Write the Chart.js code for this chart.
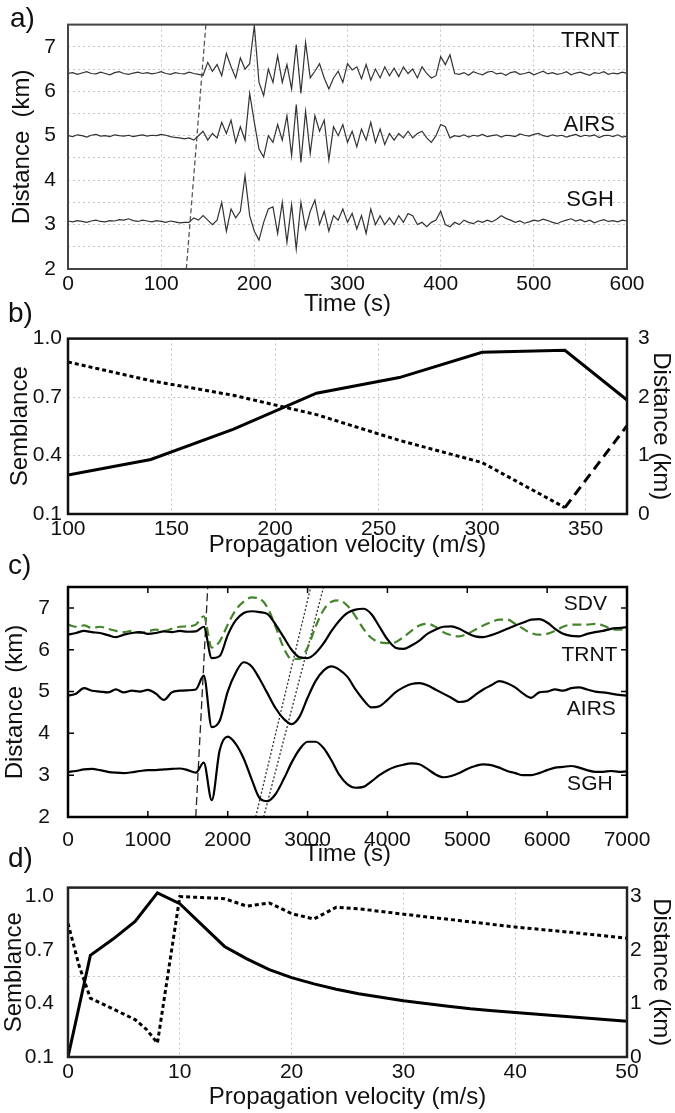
<!DOCTYPE html>
<html>
<head>
<meta charset="utf-8">
<script src="https://cdn.jsdelivr.net/npm/chart.js@4.4.0/dist/chart.umd.min.js"></script>
<style>
    body { margin: 0; background: #fff; }
    #wrap { position: relative; width: 675px; height: 1113px; font-family: "Liberation Sans", Arial, sans-serif; }
    #wrap canvas { position: absolute; left: 0; }
    .lab { position: absolute; font-size: 28px; line-height: 28px; color: #111; }
</style>
</head>
<body>
<div id="wrap">
    <canvas id="chartA" width="675" height="320" style="top:0px"></canvas>
    <canvas id="chartB" width="675" height="240" style="top:320px"></canvas>
    <canvas id="chartC" width="675" height="309" style="top:560px"></canvas>
    <canvas id="chartD" width="675" height="244" style="top:869px"></canvas>
    <div class="lab" style="left:10px;top:4px">a)</div>
    <div class="lab" style="left:8px;top:299px">b)</div>
    <div class="lab" style="left:8px;top:551px">c)</div>
    <div class="lab" style="left:8px;top:844px">d)</div>
</div>
<script>
// ---- panel a : raw traces, one sample every 5 s ----
var timeA = [];
for (var i = 0; i <= 120; i++) timeA.push(i * 5);

var trntA = [6.40, 6.42, 6.38, 6.41, 6.44, 6.40, 6.39, 6.43, 6.40, 6.37, 6.42, 6.44, 6.40, 6.38, 6.41, 6.43, 6.40, 6.42, 6.39, 6.41, 6.44, 6.40, 6.38, 6.42, 6.40, 6.39, 6.43, 6.40, 6.38,
    6.36, 6.65, 6.45, 6.60, 6.35, 6.85, 6.55, 6.30, 6.75, 6.50,
    6.62, 7.48, 6.20, 5.90, 6.50, 6.20, 6.80, 6.20, 6.60, 6.05,
    7.05, 5.95, 7.10, 6.30, 6.45, 6.62, 6.30, 6.05, 6.30, 6.45,
    6.20, 6.62, 6.48, 6.55, 6.28, 6.60, 6.25, 6.50, 6.30, 6.55,
    6.35, 6.52, 6.33, 6.55, 6.40, 6.50, 6.30, 6.55, 6.40, 6.30,
    6.35, 6.78, 6.60, 6.82, 6.40,
    6.38, 6.42, 6.36, 6.44, 6.40, 6.37, 6.43, 6.45, 6.39, 6.41, 6.36, 6.42, 6.44, 6.38, 6.40, 6.43, 6.37, 6.41, 6.45, 6.39,
    6.42, 6.38, 6.40, 6.44, 6.37, 6.41, 6.43, 6.39, 6.36, 6.42, 6.40, 6.44, 6.38, 6.41, 6.39, 6.43, 6.40];
var airsA = [5.00, 4.98, 5.02, 5.00, 4.97, 5.01, 5.03, 4.99, 5.00, 4.98, 5.02, 5.00, 4.99, 5.01, 4.98, 5.00, 5.02, 4.99, 5.01, 5.00, 5.03, 5.01, 4.98, 4.96, 4.95, 4.93,
    4.95, 4.90, 5.00, 5.10, 4.90, 5.05, 4.95, 5.30, 5.05, 5.35,
    4.85, 5.20, 4.90, 5.95, 5.30, 4.70, 4.52, 5.00, 4.85, 5.25,
    4.90, 5.45, 4.55, 5.70, 4.40, 5.55, 4.60, 5.45, 5.10, 5.35,
    4.45, 5.20, 5.00, 5.25, 4.85, 5.10, 4.75, 5.15, 4.90, 5.30,
    4.85, 5.15, 4.80, 5.05, 4.90, 5.05, 4.95, 5.10, 4.95, 5.05,
    5.10, 4.95, 4.85, 5.00, 5.25, 5.20, 4.95,
    5.00, 4.98, 5.02, 4.97, 5.01, 4.99, 5.03, 4.98, 5.00, 5.02, 4.97, 5.01, 5.00, 4.98, 5.04, 5.01, 4.99, 5.03, 5.05, 5.00,
    4.98, 5.02, 4.99, 5.01, 4.97, 5.00, 5.03, 4.98, 5.01, 4.99, 5.02, 4.96, 5.00, 5.01, 4.98, 5.02, 4.97, 4.99];
var sghA = [3.08, 3.06, 3.09, 3.07, 3.05, 3.08, 3.10, 3.07, 3.06, 3.09, 3.08, 3.11, 3.10, 3.13, 3.09, 3.07, 3.10, 3.08, 3.06, 3.09, 3.07, 3.05, 3.08, 3.06, 3.04, 3.05,
    3.05, 3.15, 3.10, 3.20, 3.10, 3.00, 3.10, 3.50, 2.85, 3.35,
    3.15, 3.30, 4.10, 3.20, 2.85, 2.65, 3.05, 3.35, 3.40, 2.80,
    3.50, 2.60, 3.45, 2.45, 3.50, 2.90, 3.30, 3.55, 3.00, 3.30,
    2.85, 3.20, 3.10, 3.35, 3.05, 3.25, 2.90, 3.20, 2.80, 3.35,
    3.00, 3.20, 3.00, 3.15, 3.00, 3.20, 3.05, 3.25, 3.20, 3.00,
    3.05, 2.95, 3.05, 3.10, 3.30, 3.00, 2.95, 3.05,
    3.00, 3.10, 3.05, 3.02, 3.08, 3.05, 3.10, 3.06, 3.12, 3.20, 3.14, 3.10, 3.05, 3.08, 3.03, 3.06, 3.10, 3.08, 3.12, 3.09,
    3.05, 3.02, 3.07, 3.10, 3.13, 3.08, 3.11, 3.06, 3.10, 3.04, 3.08, 3.11, 3.07, 3.09, 3.06, 3.10, 3.08];
var onsetA_t = [127, 148];
var onsetA_d = [2, 7.5];
var ticksA_x = [0, 100, 200, 300, 400, 500, 600];
var ticksA_y = [2, 2.5, 3, 3.5, 4, 4.5, 5, 5.5, 6, 6.5, 7, 7.5];

// ---- panel b : semblance / distance vs velocity ----
var velB = [100, 140, 180, 220, 260, 300, 340, 370];
var sembB = [0.30, 0.38, 0.535, 0.72, 0.80, 0.93, 0.94, 0.685];
var distB = [2.60, 2.28, 2.03, 1.70, 1.26, 0.88, 0.11, 1.51];
var ticksB_x = [100, 150, 200, 250, 300, 350];
var ticksB_sem = [0.1, 0.4, 0.7, 1.0];
var ticksB_dist = [0, 1, 2, 3];

// ---- panel c : filtered traces, one sample every 100 s ----
var timeC = [];
for (var j = 0; j <= 70; j++) timeC.push(j * 100);

var sdvC = [6.60, 6.55, 6.58, 6.52, 6.55, 6.50, 6.45, 6.42, 6.45, 6.40,
    6.44, 6.48, 6.45, 6.50, 6.55, 6.56, 6.60, 6.80, 6.05, 6.20,
    6.60, 6.95, 7.15, 7.25, 7.22, 7.00, 6.55, 6.05, 5.78, 5.78,
    6.05, 6.55, 6.95, 7.15, 7.18, 7.05, 6.80, 6.50, 6.28, 6.18,
    6.16, 6.18, 6.30, 6.45, 6.58, 6.62, 6.55, 6.42, 6.35, 6.32,
    6.38, 6.48, 6.58, 6.66, 6.72, 6.72, 6.62, 6.50, 6.40, 6.36,
    6.38, 6.45, 6.55, 6.60, 6.60, 6.60, 6.62, 6.58, 6.50, 6.48,
    6.50];
var trntC = [6.36, 6.40, 6.45, 6.42, 6.40, 6.35, 6.30, 6.36, 6.40, 6.42,
    6.38, 6.40, 6.44, 6.42, 6.45, 6.43, 6.44, 6.55, 5.80, 5.85,
    6.35, 6.70, 6.88, 6.92, 6.90, 6.85, 6.60, 6.30, 6.00, 5.82,
    5.80, 5.92, 6.15, 6.45, 6.70, 6.88, 6.96, 6.98, 6.85, 6.55,
    6.25, 6.05, 6.02, 6.10, 6.22, 6.38, 6.48, 6.55, 6.56, 6.50,
    6.40, 6.32, 6.30, 6.35, 6.42, 6.50, 6.58, 6.65, 6.72, 6.73,
    6.65, 6.50, 6.38, 6.33, 6.32, 6.38, 6.42, 6.45, 6.50, 6.52,
    6.54];
var airsC = [4.90, 4.95, 5.08, 5.02, 5.00, 4.98, 5.05, 4.98, 5.02, 5.00,
    5.04, 4.95, 4.80, 4.98, 5.02, 5.03, 5.05, 5.38, 4.15, 4.30,
    5.00, 5.45, 5.70, 5.60, 5.30, 4.95, 4.60, 4.35, 4.22, 4.40,
    4.85, 5.25, 5.50, 5.60, 5.52, 5.35, 5.05, 4.80, 4.62, 4.65,
    4.80, 4.98, 5.10, 5.18, 5.20, 5.15, 5.05, 4.95, 4.85, 4.75,
    4.78, 4.92, 5.05, 5.15, 5.25, 5.20, 5.10, 4.95, 4.85, 4.98,
    5.00, 5.05, 5.02, 5.08, 5.10, 5.05, 5.00, 4.98, 4.95, 4.92,
    4.90];
var sghC = [3.08, 3.10, 3.14, 3.15, 3.12, 3.08, 3.06, 3.05, 3.07, 3.10,
    3.12, 3.12, 3.14, 3.15, 3.16, 3.12, 3.06, 3.30, 2.40, 3.60,
    3.92, 3.75, 3.40, 2.90, 2.45, 2.38, 2.55, 2.90, 3.30, 3.62,
    3.80, 3.80, 3.65, 3.35, 3.00, 2.78, 2.70, 2.72, 2.85, 3.00,
    3.12, 3.20, 3.25, 3.28, 3.26, 3.15, 3.02, 2.95, 2.98, 3.05,
    3.15, 3.22, 3.26, 3.24, 3.18, 3.10, 3.05, 3.00, 3.00, 3.05,
    3.12, 3.18, 3.20, 3.22, 3.18, 3.12, 3.08, 3.08, 3.10, 3.08,
    3.09];
var dashC_t = [1600, 1750];
var dotC1_t = [2350, 3040];
var dotC2_t = [2450, 3200];
var lineC_d = [2, 7.5];
var ticksC_x = [0, 1000, 2000, 3000, 4000, 5000, 6000, 7000];
var ticksC_y = [2, 3, 4, 5, 6, 7];

// ---- panel d : semblance / distance vs velocity ----
var velD_sem = [0, 2, 4, 6, 8, 10, 12, 14, 16, 18, 20, 22, 24, 26, 28, 30, 32, 34, 36, 38, 40, 42, 44, 46, 48, 50];
var sembD = [0.10, 0.67, 0.76, 0.86, 1.02, 0.96, 0.84, 0.72, 0.65, 0.59, 0.545, 0.51, 0.48, 0.455, 0.435, 0.415, 0.40, 0.385, 0.37, 0.36, 0.35, 0.34, 0.33, 0.32, 0.31, 0.30];
var velD_dist = [0, 1, 2, 4, 6, 7, 8, 10, 12, 14, 16, 18, 20, 22, 24, 26, 30, 35, 40, 45, 50];
var distD = [2.50, 1.70, 1.10, 0.90, 0.70, 0.52, 0.26, 3.00, 2.98, 2.96, 2.82, 2.88, 2.68, 2.58, 2.80, 2.77, 2.67, 2.55, 2.43, 2.33, 2.22];
var ticksD_x = [0, 10, 20, 30, 40, 50];
var ticksD_sem = [0.1, 0.4, 0.7, 1.0];
var ticksD_dist = [0, 1, 1.5, 2, 3];

Chart.defaults.font.family = '"Liberation Sans", Arial, sans-serif';
Chart.defaults.color = '#111';
Chart.defaults.animation = false;

var TICK_FONT = { size: 21 };
var TITLE_FONT = { size: 24 };

function pairs(xs, ys) {
    return xs.map(function (x, k) { return { x: x, y: ys[k] }; });
}
function setTicks(arr) {
    return function (scale) { scale.ticks = arr.map(function (v) { return { value: v }; }); };
}
function fixWidth(w) { return function (scale) { scale.width = w; }; }
function fixHeight(h) { return function (scale) { scale.height = h; }; }
function plainLabel(v) { return String(v); }
function intLabel(v) { return Number.isInteger(v) ? String(v) : ''; }

// box round the plot area
var framePlugin = {
    id: 'frame',
    afterDatasetsDraw: function (chart, args, opts) {
        var a = chart.chartArea, ctx = chart.ctx;
        ctx.save();
        ctx.strokeStyle = opts.color || '#000';
        ctx.lineWidth = opts.width || 2;
        ctx.strokeRect(a.left, a.top, a.right - a.left, a.bottom - a.top);
        ctx.restore();
    }
};

// station names written inside the plot
var tagPlugin = {
    id: 'tags',
    afterDatasetsDraw: function (chart, args, opts) {
        if (!opts.items) return;
        var ctx = chart.ctx, xs = chart.scales.x, ys = chart.scales.y;
        ctx.save();
        ctx.font = opts.font;
        ctx.fillStyle = '#111';
        ctx.textAlign = 'right';
        ctx.textBaseline = 'middle';
        opts.items.forEach(function (it) {
            ctx.fillText(it.text, xs.getPixelForValue(it.x), ys.getPixelForValue(it.y));
        });
        ctx.restore();
    }
};

// small ticks pointing into the box (panel c)
var innerTicks = {
    id: 'innerTicks',
    afterDatasetsDraw: function (chart, args, opts) {
        if (!opts.len) return;
        var a = chart.chartArea, ctx = chart.ctx, len = opts.len;
        ctx.save();
        ctx.strokeStyle = '#000';
        ctx.lineWidth = 1.5;
        ctx.beginPath();
        chart.scales.x.ticks.forEach(function (t) {
            var px = chart.scales.x.getPixelForValue(t.value);
            ctx.moveTo(px, a.bottom); ctx.lineTo(px, a.bottom - len);
            ctx.moveTo(px, a.top); ctx.lineTo(px, a.top + len);
        });
        chart.scales.y.ticks.forEach(function (t) {
            var py = chart.scales.y.getPixelForValue(t.value);
            ctx.moveTo(a.left, py); ctx.lineTo(a.left + len, py);
            ctx.moveTo(a.right, py); ctx.lineTo(a.right - len, py);
        });
        ctx.stroke();
        ctx.restore();
    }
};

var gridDotted = { color: '#c4c4c4', lineWidth: 1, drawTicks: false };

// ---------------- a ----------------
var traceA = { borderColor: '#333', borderWidth: 1.2, pointRadius: 0, tension: 0, fill: false };
new Chart(document.getElementById('chartA'), {
    type: 'line',
    data: {
        datasets: [
            Object.assign({ data: pairs(timeA, trntA) }, traceA),
            Object.assign({ data: pairs(timeA, airsA) }, traceA),
            Object.assign({ data: pairs(timeA, sghA) }, traceA),
            { data: pairs(onsetA_t, onsetA_d), borderColor: '#555', borderWidth: 1.3, borderDash: [5, 3], pointRadius: 0 }
        ]
    },
    options: {
        responsive: false,
        layout: { padding: { top: 22, right: 48, left: 0, bottom: 0 } },
        plugins: {
            legend: { display: false }, tooltip: { enabled: false },
            frame: { color: '#444', width: 2 },
            tags: {
                font: '22px "Liberation Sans", Arial, sans-serif',
                items: [
                    { text: 'TRNT', x: 592, y: 7.14 },
                    { text: 'AIRS', x: 587, y: 5.25 },
                    { text: 'SGH', x: 586, y: 3.56 }
                ]
            }
        },
        scales: {
            x: {
                type: 'linear', min: 0, max: 600,
                afterBuildTicks: setTicks(ticksA_x), afterFit: fixHeight(51),
                grid: gridDotted, border: { display: false, dash: [2, 3] },
                ticks: { font: TICK_FONT, padding: 3, maxRotation: 0, autoSkip: false, callback: plainLabel },
                title: { display: true, text: 'Time (s)', font: TITLE_FONT, padding: { top: 0, bottom: 1 } }
            },
            y: {
                type: 'linear', min: 2, max: 7.5,
                afterBuildTicks: setTicks(ticksA_y), afterFit: fixWidth(68),
                grid: gridDotted, border: { display: false, dash: [2, 3] },
                ticks: { font: TICK_FONT, padding: 12, autoSkip: false, callback: intLabel },
                title: { display: true, text: 'Distance  (km)', font: TITLE_FONT, padding: { top: 8, bottom: 0 } }
            }
        }
    },
    plugins: [framePlugin, tagPlugin]
});

// ---------------- b ----------------
new Chart(document.getElementById('chartB'), {
    type: 'line',
    data: {
        datasets: [
            { data: pairs(velB, sembB), yAxisID: 'y', borderColor: '#000', borderWidth: 3, pointRadius: 0, tension: 0 },
            {
                data: pairs(velB, distB), yAxisID: 'y1', borderColor: '#000', borderWidth: 3, pointRadius: 0, tension: 0,
                borderDash: [4, 3],
                segment: { borderDash: function (ctx) { return ctx.p0DataIndex >= 6 ? [10, 6] : [4, 3]; } }
            }
        ]
    },
    options: {
        responsive: false,
        layout: { padding: { top: 13, right: 0, left: 0, bottom: 0 } },
        plugins: { legend: { display: false }, tooltip: { enabled: false }, frame: { color: '#111', width: 2.5 } },
        scales: {
            x: {
                type: 'linear', min: 100, max: 370,
                afterBuildTicks: setTicks(ticksB_x), afterFit: fixHeight(46),
                grid: gridDotted, border: { display: false, dash: [2, 3] },
                ticks: { font: TICK_FONT, padding: 3, maxRotation: 0, autoSkip: false, callback: plainLabel },
                title: { display: true, text: 'Propagation velocity (m/s)', font: TITLE_FONT, padding: { top: 0, bottom: 0 } }
            },
            y: {
                type: 'linear', position: 'left', min: 0.1, max: 1.0,
                afterBuildTicks: setTicks(ticksB_sem), afterFit: fixWidth(68),
                grid: gridDotted, border: { display: false, dash: [2, 3] },
                ticks: { font: TICK_FONT, padding: 6, autoSkip: false, callback: function (v) { return v.toFixed(1); } },
                title: { display: true, text: 'Semblance', font: TITLE_FONT, padding: { top: 6, bottom: 0 } }
            },
            y1: {
                type: 'linear', position: 'right', min: 0, max: 3,
                afterBuildTicks: setTicks(ticksB_dist), afterFit: fixWidth(48),
                grid: { display: false }, border: { display: false },
                ticks: { font: TICK_FONT, padding: 3, autoSkip: false, callback: plainLabel },
                title: { display: true, text: 'Distance (km)', font: TITLE_FONT, padding: { top: 0, bottom: 0 } }
            }
        }
    },
    plugins: [framePlugin]
});

// ---------------- c ----------------
var traceC = { borderColor: '#000', borderWidth: 2.2, pointRadius: 0, tension: 0.4, cubicInterpolationMode: 'monotone', fill: false };
new Chart(document.getElementById('chartC'), {
    type: 'line',
    data: {
        datasets: [
            Object.assign({ data: pairs(timeC, trntC) }, traceC),
            Object.assign({ data: pairs(timeC, airsC) }, traceC),
            Object.assign({ data: pairs(timeC, sghC) }, traceC),
            { data: pairs(timeC, sdvC), borderColor: '#43852b', borderWidth: 2.2, borderDash: [9, 5], pointRadius: 0, tension: 0.4, cubicInterpolationMode: 'monotone' },
            { data: pairs(dashC_t, lineC_d), borderColor: '#222', borderWidth: 1.3, borderDash: [8, 4], pointRadius: 0 },
            { data: pairs(dotC1_t, lineC_d), borderColor: '#333', borderWidth: 1.3, borderDash: [2, 2], pointRadius: 0 },
            { data: pairs(dotC2_t, lineC_d), borderColor: '#333', borderWidth: 1.3, borderDash: [2, 2], pointRadius: 0 }
        ]
    },
    options: {
        responsive: false,
        layout: { padding: { top: 27, right: 48, left: 0, bottom: 0 } },
        plugins: {
            legend: { display: false }, tooltip: { enabled: false },
            frame: { color: '#000', width: 2.5 },
            innerTicks: { len: 6 },
            tags: {
                font: '21px "Liberation Sans", Arial, sans-serif',
                items: [
                    { text: 'SDV', x: 6750, y: 7.09 },
                    { text: 'TRNT', x: 6880, y: 5.87 },
                    { text: 'AIRS', x: 6860, y: 4.58 },
                    { text: 'SGH', x: 6820, y: 2.79 }
                ]
            }
        },
        scales: {
            x: {
                type: 'linear', min: 0, max: 7000,
                afterBuildTicks: setTicks(ticksC_x), afterFit: fixHeight(52),
                grid: { display: false }, border: { display: false },
                ticks: { font: TICK_FONT, padding: 3, maxRotation: 0, autoSkip: false, callback: plainLabel },
                title: { display: true, text: 'Time (s)', font: TITLE_FONT, padding: { top: 0, bottom: 0 } }
            },
            y: {
                type: 'linear', min: 2, max: 7.5,
                afterBuildTicks: setTicks(ticksC_y), afterFit: fixWidth(68),
                grid: { display: false }, border: { display: false },
                ticks: { font: TICK_FONT, padding: 10, autoSkip: false, callback: plainLabel },
                title: { display: true, text: 'Distance  (km)', font: TITLE_FONT, padding: { top: 1, bottom: 0 } }
            }
        }
    },
    plugins: [framePlugin, tagPlugin, innerTicks]
});

// ---------------- d ----------------
new Chart(document.getElementById('chartD'), {
    type: 'line',
    data: {
        datasets: [
            { data: pairs(velD_sem, sembD), yAxisID: 'y', borderColor: '#000', borderWidth: 3, pointRadius: 0, tension: 0 },
            { data: pairs(velD_dist, distD), yAxisID: 'y1', borderColor: '#000', borderWidth: 3, borderDash: [4, 3], pointRadius: 0, tension: 0 }
        ]
    },
    options: {
        responsive: false,
        layout: { padding: { top: 9, right: 0, left: 0, bottom: 0 } },
        plugins: { legend: { display: false }, tooltip: { enabled: false }, frame: { color: '#222', width: 2.5 } },
        scales: {
            x: {
                type: 'linear', min: 0, max: 50,
                afterBuildTicks: setTicks(ticksD_x), afterFit: fixHeight(56),
                grid: gridDotted, border: { display: false, dash: [2, 3] },
                ticks: { font: TICK_FONT, padding: 3, maxRotation: 0, autoSkip: false, callback: plainLabel },
                title: { display: true, text: 'Propagation velocity (m/s)', font: TITLE_FONT, padding: { top: 0, bottom: 1 } }
            },
            y: {
                type: 'linear', position: 'left', min: 0.1, max: 1.05,
                afterBuildTicks: setTicks(ticksD_sem), afterFit: fixWidth(68),
                grid: { display: false }, border: { display: false },
                ticks: { font: TICK_FONT, padding: 6, autoSkip: false, callback: function (v) { return v.toFixed(1); } },
                title: { display: true, text: 'Semblance', font: TITLE_FONT, padding: { top: 0, bottom: 0 } }
            },
            y1: {
                type: 'linear', position: 'right', min: 0, max: 3.1667,
                afterBuildTicks: setTicks(ticksD_dist), afterFit: fixWidth(48),
                grid: {
                    drawTicks: false,
                    color: function (ctx) { return ctx.tick && ctx.tick.value === 1.5 ? '#c4c4c4' : 'rgba(0,0,0,0)'; }
                },
                border: { display: false, dash: [2, 3] },
                ticks: { font: TICK_FONT, padding: 3, autoSkip: false, callback: intLabel },
                title: { display: true, text: 'Distance (km)', font: TITLE_FONT, padding: { top: 0, bottom: 0 } }
            }
        }
    },
    plugins: [framePlugin]
});
</script>
</body>
</html>
